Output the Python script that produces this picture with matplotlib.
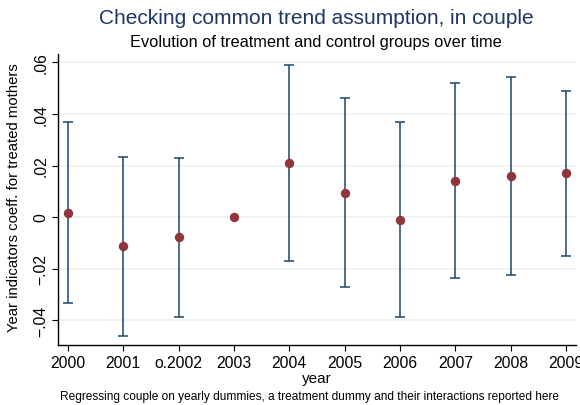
import matplotlib
matplotlib.use("Agg")
import matplotlib.pyplot as plt
import numpy as np

plt.rcParams['font.family'] = ['Liberation Sans', 'DejaVu Sans']

# Year dummies and their interaction coefficients with 95% CIs
years = ["2000", "2001", "o.2002", "2003", "2004", "2005", "2006", "2007", "2008", "2009"]
coef = [0.0016, -0.0114, -0.0079, 0.0, 0.0210, 0.0095, -0.0010, 0.0141, 0.0160, 0.0169]
ci_low = [-0.0334, -0.0461, -0.0387, np.nan, -0.0171, -0.0272, -0.0387, -0.0237, -0.0224, -0.0151]
ci_high = [0.0369, 0.0234, 0.0229, np.nan, 0.0591, 0.0462, 0.0368, 0.0520, 0.0545, 0.0488]
yticks = [-0.04, -0.02, 0.0, 0.02, 0.04, 0.06]
ytick_labels = ["\u2212.04", "\u2212.02", "0", ".02", ".04", ".06"]

navy = "#1a476f"
maroon = "#90353b"
grid_col = "#eaf2f3"

fig = plt.figure(figsize=(5.8, 4.06), dpi=100)
ax = fig.add_axes([58 / 580, 1 - 346 / 406, (576 - 58) / 580, (346 - 55) / 406])

x = np.arange(len(years))
coef_a = np.array(coef)
lo = np.array(ci_low)
hi = np.array(ci_high)
has_ci = ~np.isnan(lo)

ax.errorbar(x[has_ci], coef_a[has_ci],
            yerr=[coef_a[has_ci] - lo[has_ci], hi[has_ci] - coef_a[has_ci]],
            fmt="none", ecolor=navy, elinewidth=1.1, capsize=3.5, capthick=1.1, zorder=2)
ax.scatter(x, coef_a, s=46, color=maroon, zorder=3, linewidths=0)

ax.set_xlim(-0.18, 9.18)
ax.set_ylim(-0.0497, 0.0633)
ax.set_xticks(x)
ax.set_xticklabels(years, fontsize=11.3)
ax.set_yticks(yticks)
ax.set_yticklabels(ytick_labels, fontsize=11.3, rotation=90, va="center")
ax.tick_params(axis="both", length=4, width=0.8, color="black", pad=3)

ax.grid(axis="y", color=grid_col, linewidth=1.2)
ax.set_axisbelow(True)
for side in ("top", "right"):
    ax.spines[side].set_visible(False)
for side in ("left", "bottom"):
    ax.spines[side].set_linewidth(1.0)

ax.set_xlabel("year", fontsize=11, labelpad=1)
ax.set_ylabel("Year indicators coeff. for treated mothers", fontsize=10.7)
ax.yaxis.set_label_coords(-(58 - 21) / 518, (346 - 198) / 291)

fig.text(316 / 580, 1 - 18 / 406, "Checking common trend assumption, in couple",
         ha="center", va="center", fontsize=15, color="#1f3763")
fig.text(316 / 580, 1 - 43 / 406, "Evolution of treatment and control groups over time",
         ha="center", va="center", fontsize=11.8, color="black")
fig.text(310 / 580, 1 - 397 / 406,
         "Regressing couple on yearly dummies, a treatment dummy and their interactions reported here",
         ha="center", va="center", fontsize=8.6, color="black")

fig.savefig("out.png", dpi=100)
